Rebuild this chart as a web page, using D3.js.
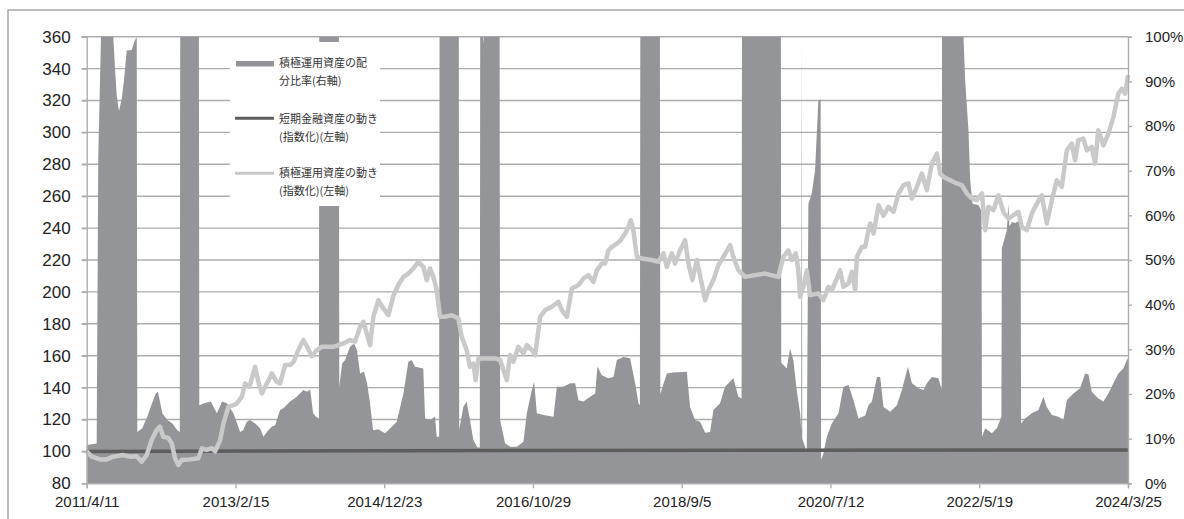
<!DOCTYPE html>
<html><head><meta charset="utf-8">
<script src="https://cdn.jsdelivr.net/npm/d3@7"></script>
<style>
html,body{margin:0;padding:0;background:#fff;}
svg{display:block;}
</style></head>
<body>
<svg id="chart" width="1184" height="519"></svg>
<script>
// ---- DATA (dates as decimal years) ----
const tickDates = ["2011-04-11","2013-02-15","2014-12-23","2016-10-29","2018-09-05","2020-07-12","2022-05-19","2024-03-25"];
const leftTicks = [80,100,120,140,160,180,200,220,240,260,280,300,320,340,360];
const rightTicks = [0,10,20,30,40,50,60,70,80,90,100];

// 積極運用資産の配分比率 (right axis, %)
const allocYears = [2011.274,2011.398,2011.418,2011.452,2011.605,2011.626,2011.647,2011.676,2011.710,2011.738,2011.772,2011.834,2011.875,2011.897,2011.904,2011.966,2012.028,2012.070,2012.133,2012.161,2012.215,2012.277,2012.339,2012.401,2012.432,2012.437,2012.669,2012.674,2012.734,2012.817,2012.892,2012.958,2013.016,2013.098,2013.182,2013.219,2013.265,2013.306,2013.368,2013.430,2013.471,2013.514,2013.576,2013.617,2013.679,2013.720,2013.804,2013.887,2013.969,2014.012,2014.053,2014.090,2014.127,2014.162,2014.167,2014.411,2014.416,2014.451,2014.488,2014.550,2014.600,2014.637,2014.675,2014.724,2014.762,2014.799,2014.836,2014.899,2014.986,2015.060,2015.131,2015.214,2015.276,2015.318,2015.359,2015.462,2015.484,2015.546,2015.608,2015.629,2015.659,2015.664,2015.904,2015.909,2015.960,2016.002,2016.043,2016.085,2016.134,2016.165,2016.170,2016.205,2016.209,2016.213,2016.411,2016.417,2016.479,2016.541,2016.625,2016.707,2016.749,2016.811,2016.840,2016.873,2016.956,2017.080,2017.122,2017.204,2017.288,2017.350,2017.391,2017.453,2017.537,2017.599,2017.627,2017.682,2017.764,2017.827,2017.869,2017.951,2018.034,2018.097,2018.138,2018.156,2018.161,2018.405,2018.410,2018.491,2018.573,2018.740,2018.781,2018.843,2018.905,2018.968,2019.030,2019.071,2019.154,2019.216,2019.320,2019.382,2019.422,2019.427,2019.911,2019.916,2019.984,2020.025,2020.066,2020.108,2020.150,2020.164,2020.171,2020.177,2020.212,2020.233,2020.253,2020.295,2020.336,2020.377,2020.405,2020.411,2020.439,2020.482,2020.544,2020.626,2020.688,2020.751,2020.813,2020.875,2020.958,2020.999,2021.042,2021.104,2021.145,2021.186,2021.269,2021.353,2021.415,2021.490,2021.540,2021.622,2021.684,2021.726,2021.788,2021.870,2021.910,2021.915,2022.182,2022.203,2022.244,2022.265,2022.294,2022.368,2022.406,2022.412,2022.452,2022.535,2022.597,2022.654,2022.659,2022.722,2022.741,2022.754,2022.784,2022.825,2022.893,2022.899,2022.949,2023.033,2023.115,2023.177,2023.219,2023.282,2023.364,2023.426,2023.468,2023.550,2023.634,2023.696,2023.737,2023.779,2023.861,2023.924,2023.986,2024.048,2024.110,2024.172,2024.215,2024.230];
const allocPct = [8.6,8.9,73,100,100,93,87,83.3,86.1,90.2,96.9,97,99.2,100,11.5,12.3,14.9,17.1,20.1,20.5,15.7,14.2,13.4,11.9,11.5,100,100,17.5,17.9,18.3,15.7,18.3,17.9,15.7,11.5,11.9,13.8,14.2,13.4,12.3,10.4,11.5,12.7,13,16.4,16.8,18.3,19.4,20.9,20.5,21,15.7,14.9,14.5,100,100,21.6,26.8,27.6,30.6,31.3,29.8,24.6,25,22.4,17.9,11.9,12.1,11.2,12.5,13.8,20.1,27.2,27.6,26.1,25.7,14.5,14.2,14.9,10.4,10.4,100,100,12,17.1,18.3,14.2,9.7,8.1,8,100,100,98.3,100,100,14.2,8.9,8.2,8.2,9.3,15.7,20.9,22.7,15.7,15.3,14.9,21.6,21.6,22.4,22.4,18.6,18.3,19.4,20.1,26.1,24.2,23.5,23.8,27.6,28.3,28,22.4,17.9,17.5,100,100,20,24.6,24.8,25,17.1,14.2,13.8,11.3,11.5,16.4,17.9,21.6,23.5,19.4,19,100,100,27,25.7,30.2,27.6,20.9,15.7,12,100,10,8.2,7,62.6,64.9,70.1,85.7,86,5.2,6.7,10.4,13.4,15.7,21.6,22,18.6,14.5,15.2,17.5,18.3,23.8,23.8,17.1,16,17.5,20.9,26.1,22.4,21.3,20.9,22.4,23.8,23.5,21,100,100,90.2,79,67.9,62.6,62.3,61,10.4,12.3,11.2,12.3,14.9,52.6,56.7,62.6,57.5,58.5,58.3,58.9,13.4,14.5,15.7,16.4,19.4,17.1,15.3,14.9,14.2,18.6,20.1,21.3,24.6,24.4,20.5,19,18.3,20.1,22.4,24.6,25.7,27.6,28];

// 短期金融資産の動き (指数化, left axis)
const shortYears = [2011.274,2015.0,2019.5,2024.230];
const shortVals = [100,100.4,100.7,100.9];

// 積極運用資産の動き (指数化, left axis)
const riskYears = [2011.274,2011.336,2011.440,2011.523,2011.605,2011.729,2011.813,2011.896,2011.958,2012.021,2012.083,2012.145,2012.186,2012.227,2012.289,2012.332,2012.373,2012.414,2012.456,2012.559,2012.663,2012.705,2012.767,2012.829,2012.870,2012.933,2012.974,2013.036,2013.098,2013.141,2013.203,2013.244,2013.297,2013.368,2013.409,2013.452,2013.514,2013.576,2013.638,2013.679,2013.741,2013.804,2013.845,2013.907,2013.969,2014.012,2014.074,2014.136,2014.198,2014.342,2014.467,2014.550,2014.613,2014.675,2014.716,2014.758,2014.799,2014.840,2014.902,2014.965,2015.027,2015.089,2015.151,2015.214,2015.276,2015.338,2015.400,2015.462,2015.505,2015.546,2015.587,2015.629,2015.670,2015.732,2015.816,2015.898,2015.940,2016.002,2016.043,2016.085,2016.114,2016.147,2016.230,2016.355,2016.417,2016.458,2016.500,2016.541,2016.582,2016.644,2016.707,2016.749,2016.811,2016.852,2016.914,2016.977,2017.060,2017.142,2017.184,2017.247,2017.309,2017.391,2017.453,2017.515,2017.578,2017.620,2017.682,2017.723,2017.764,2017.807,2017.869,2017.910,2017.972,2018.013,2018.043,2018.075,2018.118,2018.180,2018.304,2018.386,2018.449,2018.491,2018.553,2018.594,2018.656,2018.719,2018.760,2018.809,2018.864,2018.926,2018.968,2019.009,2019.071,2019.133,2019.195,2019.279,2019.320,2019.382,2019.465,2019.590,2019.714,2019.880,2019.942,2020.004,2020.046,2020.096,2020.128,2020.150,2020.191,2020.233,2020.274,2020.377,2020.439,2020.502,2020.544,2020.606,2020.647,2020.688,2020.751,2020.793,2020.834,2020.855,2020.917,2020.958,2020.999,2021.021,2021.062,2021.124,2021.186,2021.248,2021.311,2021.373,2021.435,2021.497,2021.540,2021.602,2021.664,2021.726,2021.788,2021.851,2021.892,2021.933,2022.016,2022.099,2022.162,2022.224,2022.286,2022.348,2022.412,2022.452,2022.493,2022.555,2022.617,2022.679,2022.741,2022.804,2022.866,2022.908,2022.970,2023.033,2023.095,2023.157,2023.219,2023.282,2023.344,2023.406,2023.468,2023.530,2023.571,2023.612,2023.675,2023.717,2023.779,2023.820,2023.861,2023.924,2023.986,2024.048,2024.110,2024.153,2024.194,2024.230];
const riskVals = [100,96.7,95,95,96.7,97.7,96.7,97,93.5,97.7,107.1,113.4,115.5,109.2,108.5,105,95.7,91.5,94.6,95,95.7,101.9,100.9,102,100,107.1,117.6,128,129,130.1,134.3,142.6,140.5,153,143.6,136.4,142.6,148.9,143.6,142.6,154.1,154.1,156,163.5,169.8,166,159.7,163.5,165.6,165.6,167.7,169.8,168.9,178.1,181.2,173.9,166.6,184.4,194.8,189.6,185.4,197.5,204.3,209.4,211.5,214.7,218.8,215.7,207.3,214.7,209.4,201.1,184.4,184.4,185.4,183.4,171.8,163.5,153,155,144.7,158.3,158.3,158.3,157.3,151,144.7,160.4,156.2,165.6,161.4,166.6,163.5,160.4,184.4,188.6,190.7,193.8,188.6,184.4,202.2,204.3,208.4,210.5,206.3,213.6,217.8,217.8,226.1,228.2,230.3,232,236.6,240.7,244.9,238.6,222,221,220,218.9,224.2,215.7,224.2,217.8,226.1,232.4,217.8,207.4,220,205.3,194.8,201,207.4,216.8,222,229.3,222,213.6,209.4,210.5,211.5,209.4,222,226.1,220,224.2,213.6,196.9,203.2,213.6,198,199,194.8,203.2,201,208.4,213.6,203.2,205.3,212.6,201,222,228.2,228.2,238.7,242.9,236.6,254.3,247.8,253.3,250.1,261.7,266.9,268,258.6,265.9,274.2,263.8,280.4,286.7,274.2,272.1,270,268,266.9,261.7,258.6,257.5,261.7,238.7,253.3,251.2,260.6,250.1,246,248.1,250.1,240.7,238.7,249.1,255.4,260.6,242.9,257.5,270,265.9,288.8,293,282.5,295.1,296.1,288.8,290.9,280.4,301.3,291.9,299.2,309.6,324.3,327.4,324.3,336];

const legendLabels = [
  ["積極運用資産の配","分比率(右軸)"],
  ["短期金融資産の動き","(指数化)(左軸)"],
  ["積極運用資産の動き","(指数化)(左軸)"]
];

// ---- helpers ----
function yd(y){const yr=Math.floor(y);const s=Date.UTC(yr,0,1),e=Date.UTC(yr+1,0,1);return new Date(s+(y-yr)*(e-s));}
const parse = d3.utcParse("%Y-%m-%d");

const svg = d3.select("#chart");
const L=86.7, R=1128, T=36.7, B=483.3;
const x = d3.scaleUtc().domain([parse(tickDates[0]), parse(tickDates[tickDates.length-1])]).range([L,R]);
const yL = d3.scaleLinear().domain([80,360]).range([B,T]);
const yR = d3.scaleLinear().domain([0,100]).range([B,T]);

const AREA="#949599", DARK="#5d5d5d", LIGHT="#c9c9c9", GRID="#adadad";

// outer frame
svg.append("path").attr("d",`M8,${519}V10H1184`).attr("fill","none").attr("stroke","#a8a8a8").attr("stroke-width",1.5);

// gridlines
svg.append("g").selectAll("line").data(leftTicks.filter(v=>v>80)).join("line")
  .attr("x1",L-5).attr("x2",R).attr("y1",d=>yL(d)).attr("y2",d=>yL(d))
  .attr("stroke",GRID).attr("stroke-width",1.4);

// area
const allocData = allocYears.map((y,i)=>({d:yd(y),v:allocPct[i]}));
svg.append("path").datum(allocData)
  .attr("d", d3.area().x(p=>x(p.d)).y0(yR(0)).y1(p=>yR(p.v)))
  .attr("fill",AREA);

// short-term line
const shortData = shortYears.map((y,i)=>({d:yd(y),v:shortVals[i]}));
svg.append("path").datum(shortData)
  .attr("d", d3.line().x(p=>x(p.d)).y(p=>yL(p.v)))
  .attr("fill","none").attr("stroke",DARK).attr("stroke-width",3.5);

// risky line
const riskData = riskYears.map((y,i)=>({d:yd(y),v:riskVals[i]}));
svg.append("path").datum(riskData)
  .attr("d", d3.line().x(p=>x(p.d)).y(p=>yL(p.v)))
  .attr("fill","none").attr("stroke",LIGHT).attr("stroke-width",4.5).attr("stroke-linejoin","round");

// axes
const axL = svg.append("g").attr("transform",`translate(${L},0)`).call(d3.axisLeft(yL).tickValues(leftTicks).tickSize(5).tickPadding(11));
const axR = svg.append("g").attr("transform",`translate(${R},0)`).call(d3.axisRight(yR).tickValues(rightTicks).tickSize(4).tickPadding(13).tickFormat(d=>d+"%"));
const axB = svg.append("g").attr("transform",`translate(0,${B})`).call(d3.axisBottom(x).tickValues(tickDates.map(parse)).tickSize(5).tickPadding(8).tickFormat(d=>`${d.getUTCFullYear()}/${d.getUTCMonth()+1}/${d.getUTCDate()}`));
[axL,axR,axB].forEach(g=>{g.selectAll("path.domain").attr("stroke",GRID).attr("stroke-width",1.4);g.selectAll(".tick line").attr("stroke",GRID).attr("stroke-width",1.4);});
axL.selectAll("text").attr("font-family","'Liberation Sans',Arial,sans-serif").attr("font-size",17).attr("fill","#222");
axR.selectAll("text").attr("font-family","'Liberation Sans',Arial,sans-serif").attr("font-size",15).attr("fill","#222");
axB.selectAll("text").attr("font-family","'Liberation Sans',Arial,sans-serif").attr("font-size",15).attr("fill","#222");

// legend
const lg = svg.append("g");
lg.append("rect").attr("x",230).attr("y",42).attr("width",150).attr("height",164).attr("fill","#fff");
lg.append("rect").attr("x",236).attr("y",61).attr("width",38).attr("height",5.5).attr("fill",AREA);
lg.append("line").attr("x1",235).attr("x2",274).attr("y1",118.3).attr("y2",118.3).attr("stroke",DARK).attr("stroke-width",3);
lg.append("line").attr("x1",235).attr("x2",274).attr("y1",173.3).attr("y2",173.3).attr("stroke",LIGHT).attr("stroke-width",3);
const ly=[63.5,118.8,173.5];
legendLabels.forEach((lines,i)=>{
  lines.forEach((t,j)=>{
    lg.append("text").attr("x",279).attr("y",ly[i]+j*18).attr("dy","0.36em")
      .attr("font-family","'Noto Sans CJK JP',sans-serif").attr("font-size",11).attr("fill","#333").text(t);
  });
});
</script>
</body></html>
